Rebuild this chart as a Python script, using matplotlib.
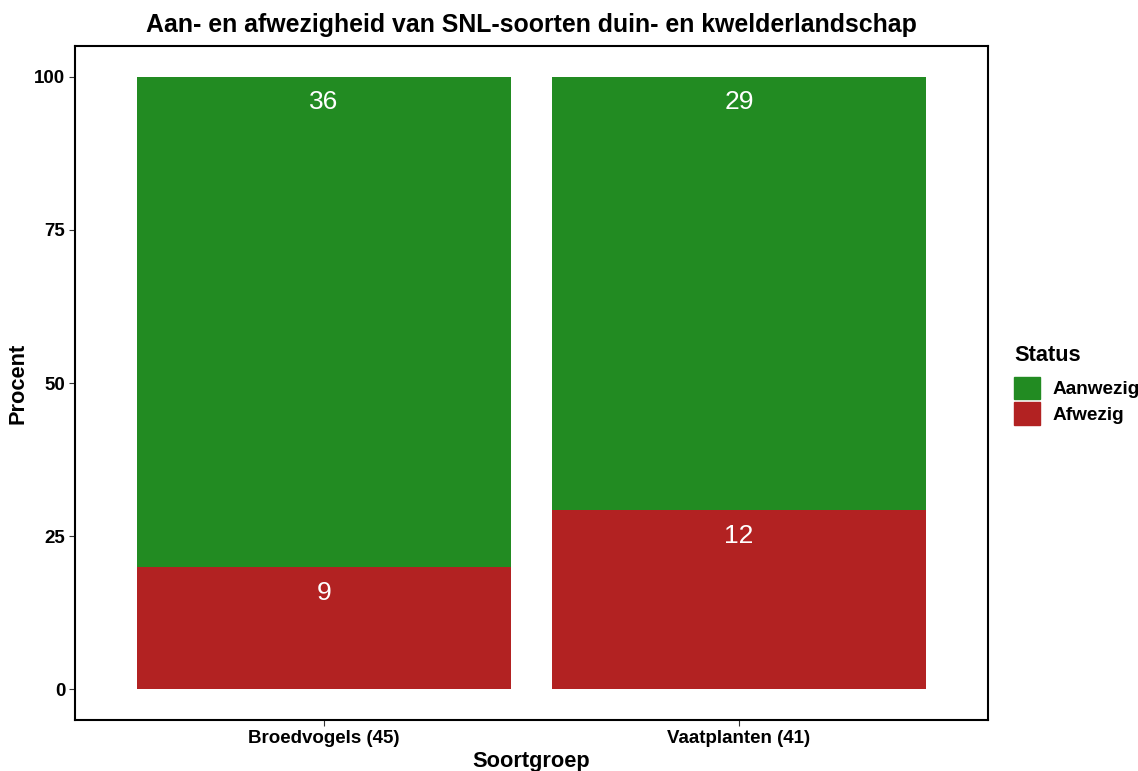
import numpy as np
import matplotlib.pyplot as plt
from matplotlib.patches import Patch

plt.rcParams['font.family'] = ['Liberation Sans', 'DejaVu Sans']

# data
groups = ['Broedvogels (45)', 'Vaatplanten (41)']
aanwezig = np.array([36, 29])
afwezig = np.array([9, 12])
totals = aanwezig + afwezig
pct_afw = afwezig / totals * 100
pct_aanw = aanwezig / totals * 100

green = '#228B22'
red = '#B22222'

fig = plt.figure(figsize=(11.38, 7.71), dpi=100)
ax = fig.add_axes([0.0659, 0.0661, 0.8023, 0.8742])

x = np.arange(1, len(groups) + 1)
ax.bar(x, pct_afw, width=0.9, color=red)
ax.bar(x, pct_aanw, width=0.9, bottom=pct_afw, color=green)

# labels just under the top of each segment
for xi, a, b, na, nb in zip(x, pct_afw, pct_aanw, afwezig, aanwezig):
    ax.text(xi, a - 4.2, str(na), ha='center', va='center', color='white', fontsize=19)
    ax.text(xi, a + b - 4.2, str(nb), ha='center', va='center', color='white', fontsize=19)

ax.set_xlim(0.4, 2.6)
ax.set_ylim(-5, 105)
ax.set_xticks(x)
ax.set_xticklabels(groups)
ax.set_yticks([0, 25, 50, 75, 100])
ax.tick_params(labelsize=13.5, length=4, width=0.8, color='#333333', pad=3)
for lab in ax.get_xticklabels() + ax.get_yticklabels():
    lab.set_fontweight('bold')
for s in ax.spines.values():
    s.set_linewidth(1.5)

ax.set_xlabel('Soortgroep', fontsize=15.7, fontweight='bold', labelpad=3)
ax.set_ylabel('Procent', fontsize=15.7, fontweight='bold', labelpad=4)
ax.set_title('Aan- en afwezigheid van SNL-soorten duin- en kwelderlandschap',
             fontsize=17.9, fontweight='bold', pad=10)

handles = [Patch(color=green, label='Aanwezig'), Patch(color=red, label='Afwezig')]
leg = fig.legend(handles=handles, title='Status', loc='upper left',
                 bbox_to_anchor=(0.891, 0.553), frameon=False,
                 prop={'weight': 'bold', 'size': 13.7},
                 title_fontproperties={'weight': 'bold', 'size': 15.7},
                 handlelength=1.35, handleheight=1.45, handletextpad=0.7,
                 labelspacing=0.15, borderaxespad=0, borderpad=0)
leg._legend_box.align = 'left'
leg._legend_box.sep = 8

fig.savefig('out.png', dpi=100)
